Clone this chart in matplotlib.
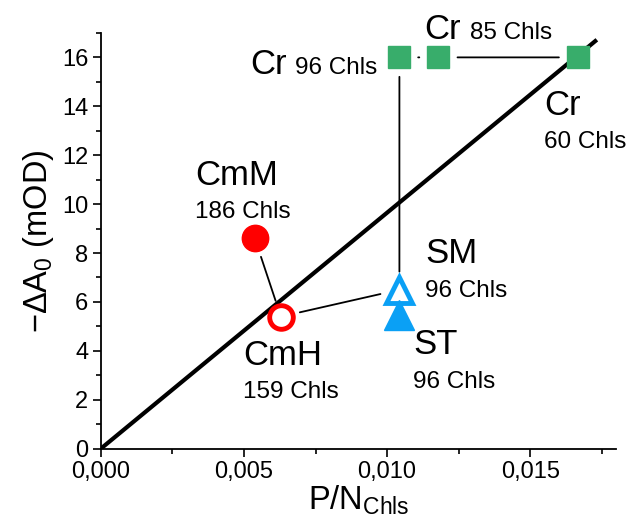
import numpy as np
import matplotlib
matplotlib.use("Agg")
import matplotlib.pyplot as plt
from matplotlib.ticker import MultipleLocator, FuncFormatter

plt.rcParams['font.family'] = ['Liberation Sans', 'DejaVu Sans']
plt.rcParams['mathtext.default'] = 'regular'

# data
cr_x = [0.01043, 0.01178, 0.01668]
cr_y = [16.0, 16.0, 16.0]
cmm_x, cmm_y = 0.00538, 8.6
cmh_x, cmh_y = 0.00629, 5.4
sm_x, sm_y = 0.01043, 6.5
st_x, st_y = 0.01043, 5.45
fit_slope = 965.0
fit_x = [0.0, 0.01727]

GREEN = '#38ad6b'
RED = '#ff0000'
BLUE = '#0aa0f5'

fig = plt.figure(figsize=(6.3, 5.31), dpi=100)
ax = fig.add_axes([0.160, 0.155, 0.818, 0.783])

# linear fit through origin
fx = np.array(fit_x)
ax.plot(fx, fit_slope * fx, color='black', lw=3.0, zorder=2)

def connect(p1, p2, sa, sb):
    ax.annotate('', xy=p2, xytext=p1,
                arrowprops=dict(arrowstyle='-', color='black', lw=1.3,
                                shrinkA=sa, shrinkB=sb), zorder=1)

connect((cmm_x, cmm_y), (cmh_x, cmh_y), 14, 12)
connect((cmh_x, cmh_y), (sm_x, sm_y), 14, 14)
connect((cr_x[0], cr_y[0]), (sm_x, sm_y), 14, 13)
connect((cr_x[1], cr_y[1]), (cr_x[2], cr_y[2]), 14, 14)
connect((cr_x[0], cr_y[0]), (cr_x[1], cr_y[1]), 13.5, 13.5)

ax.plot(cr_x, cr_y, ls='none', marker='s', ms=16.5, color=GREEN, zorder=3)
ax.plot([cmm_x], [cmm_y], ls='none', marker='o', ms=19, color=RED, zorder=3)
ax.plot([cmh_x], [cmh_y], ls='none', marker='o', ms=17, mfc='white',
        mec=RED, mew=3.5, zorder=3)
ax.plot([sm_x], [sm_y], ls='none', marker='^', ms=19, mfc='white',
        mec=BLUE, mew=3.5, zorder=3)
ax.plot([st_x], [st_y], ls='none', marker='^', ms=21, color=BLUE, zorder=3)

# labels
big, small = 25, 17.5
def lab(x, y, s, size):
    ax.text(x, y, s, fontsize=size, ha='left', va='baseline', zorder=4)

lab(0.00523, 15.3, 'Cr', big)
lab(0.00680, 15.3, '96 Chls', small)
lab(0.01130, 16.75, 'Cr', big)
lab(0.01290, 16.75, '85 Chls', small)
lab(0.01549, 13.65, 'Cr', big)
lab(0.01549, 12.3, '60 Chls', small)
lab(0.00329, 10.78, 'CmM', big)
lab(0.00329, 9.43, '186 Chls', small)
lab(0.00497, 3.42, 'CmH', big)
lab(0.00497, 2.07, '159 Chls', small)
lab(0.01133, 7.6, 'SM', big)
lab(0.01133, 6.2, '96 Chls', small)
lab(0.01091, 3.87, 'ST', big)
lab(0.01091, 2.48, '96 Chls', small)

ax.set_xlim(0, 0.018)
ax.set_ylim(0, 17)
ax.xaxis.set_major_locator(MultipleLocator(0.005))
ax.xaxis.set_minor_locator(MultipleLocator(0.0025))
ax.yaxis.set_major_locator(MultipleLocator(2))
ax.yaxis.set_minor_locator(MultipleLocator(1))
ax.xaxis.set_major_formatter(FuncFormatter(lambda v, p: f'{v:.3f}'.replace('.', ',')))
ax.yaxis.set_major_formatter(FuncFormatter(lambda v, p: f'{v:.0f}'))

for s in ['top', 'right']:
    ax.spines[s].set_visible(False)
for s in ['left', 'bottom']:
    ax.spines[s].set_linewidth(1.3)
ax.tick_params(which='major', direction='out', length=6, width=1.2, labelsize=17, pad=3)
ax.tick_params(which='minor', direction='out', length=3.5, width=1.2)

ax.set_xlabel(r'P/N$_{Chls}$', fontsize=23.5, labelpad=0)
ax.set_ylabel(r'$-\Delta$A$_{0}$ (mOD)', fontsize=23.5, labelpad=4)

fig.savefig('out.png', dpi=100)
